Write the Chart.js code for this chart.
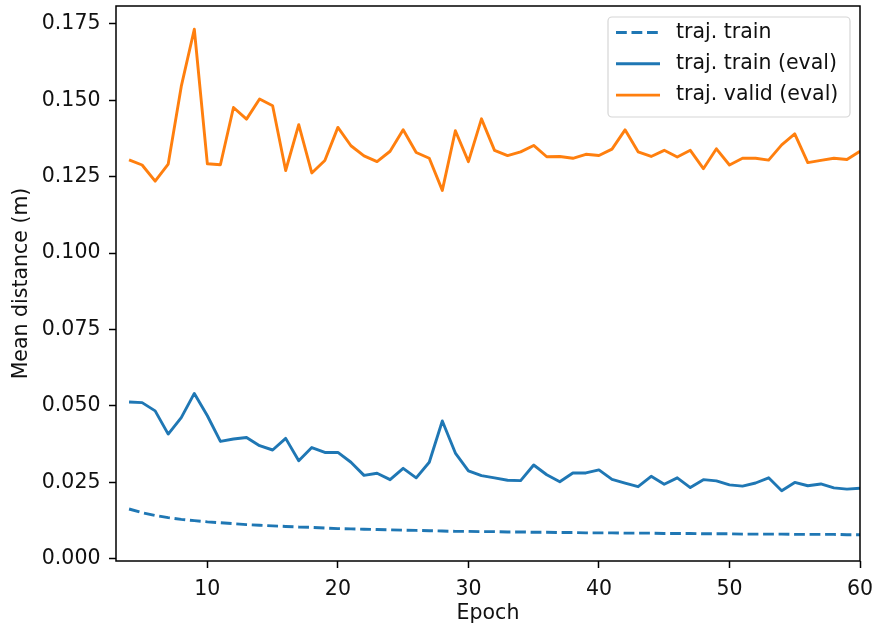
<!DOCTYPE html>
<html>
<head>
<meta charset="utf-8">
<script src="https://cdn.jsdelivr.net/npm/chart.js@4.4.1/dist/chart.umd.min.js"></script>
<style>
  html, body { margin: 0; padding: 0; background: #fff; }
  canvas { display: block; }
</style>
</head>
<body>
<canvas id="distChart" width="874" height="627"></canvas>
<script>
const epochs = [4, 5, 6, 7, 8, 9, 10, 11, 12, 13, 14, 15, 16, 17, 18, 19, 20, 21, 22, 23,
  24, 25, 26, 27, 28, 29, 30, 31, 32, 33, 34, 35, 36, 37, 38, 39, 40, 41, 42, 43,
  44, 45, 46, 47, 48, 49, 50, 51, 52, 53, 54, 55, 56, 57, 58, 59, 60];

const trajTrain = [0.0163, 0.0151, 0.0142, 0.0135, 0.0129, 0.0125, 0.0121, 0.0118, 0.0115, 0.0112,
  0.0110, 0.0108, 0.0106, 0.0104, 0.0103, 0.0101, 0.0099, 0.0098, 0.0097, 0.0096,
  0.0095, 0.0094, 0.0093, 0.0092, 0.0091, 0.0090, 0.0090, 0.0089, 0.0089, 0.0088,
  0.0088, 0.0087, 0.0087, 0.0086, 0.0086, 0.0085, 0.0085, 0.0085, 0.0084, 0.0084,
  0.0084, 0.0083, 0.0083, 0.0083, 0.0082, 0.0082, 0.0082, 0.0081, 0.0081, 0.0081,
  0.0081, 0.0080, 0.0080, 0.0080, 0.0080, 0.0079, 0.0079];

const trajTrainEval = [0.0513, 0.0511, 0.0484, 0.0408, 0.0462, 0.0541, 0.0468, 0.0384, 0.0392, 0.0397,
  0.0370, 0.0356, 0.0394, 0.0321, 0.0364, 0.0348, 0.0348, 0.0316, 0.0273, 0.0280,
  0.0259, 0.0296, 0.0265, 0.0316, 0.0451, 0.0346, 0.0288, 0.0272, 0.0265, 0.0257,
  0.0256, 0.0307, 0.0275, 0.0252, 0.0281, 0.0281, 0.0291, 0.0260, 0.0248, 0.0236,
  0.0270, 0.0244, 0.0265, 0.0233, 0.0259, 0.0255, 0.0242, 0.0238, 0.0248, 0.0265,
  0.0223, 0.0250, 0.0239, 0.0245, 0.0232, 0.0228, 0.0231];

const trajValidEval = [0.1305, 0.1288, 0.1235, 0.1291, 0.1545, 0.1732, 0.1292, 0.1289, 0.1476, 0.1438,
  0.1504, 0.1482, 0.1270, 0.1420, 0.1262, 0.1303, 0.1411, 0.1351, 0.1318, 0.1299,
  0.1333, 0.1403, 0.1329, 0.1310, 0.1205, 0.1400, 0.1299, 0.1439, 0.1336, 0.1319,
  0.1331, 0.1352, 0.1315, 0.1316, 0.1310, 0.1323, 0.1319, 0.1340, 0.1403, 0.1331,
  0.1316, 0.1336, 0.1314, 0.1336, 0.1276, 0.1341, 0.1288, 0.1310, 0.1310, 0.1304,
  0.1354, 0.1390, 0.1296, 0.1303, 0.1310, 0.1306, 0.1333];

const xTicks = [10, 20, 30, 40, 50, 60];
const yTicks = [0, 0.025, 0.05, 0.075, 0.1, 0.125, 0.15, 0.175];
const seriesLabels = ["traj. train", "traj. train (eval)", "traj. valid (eval)"];

const FONT = "'DejaVu Sans', sans-serif";
const FONT_SIZE = 20.5;
const TEXT = "#111";
const BLUE = "#1f77b4";
const ORANGE = "#ff7f0e";
const LW = 2.9;
const DASH = [10.8, 4.7];

const toPoints = values => values.map((v, i) => ({ x: epochs[i], y: v }));

// matplotlib style box around the plot + legend inside upper right
const framePlugin = {
  id: "frame",
  afterDraw(chart) {
    const { ctx, chartArea: a } = chart;
    ctx.save();
    ctx.strokeStyle = "#000";
    ctx.lineWidth = 1.5;
    ctx.strokeRect(a.left, a.top, a.right - a.left, a.bottom - a.top);

    const bw = 242, bh = 100;
    const bx = a.right - 10 - bw, by = a.top + 11;
    ctx.beginPath();
    ctx.roundRect(bx, by, bw, bh, 4);
    ctx.fillStyle = "rgba(255,255,255,0.8)";
    ctx.fill();
    ctx.strokeStyle = "#d6d6d6";
    ctx.lineWidth = 1.2;
    ctx.stroke();

    const styles = [
      { color: BLUE, dash: DASH },
      { color: BLUE, dash: [] },
      { color: ORANGE, dash: [] }
    ];
    ctx.font = FONT_SIZE + "px " + FONT;
    ctx.textBaseline = "middle";
    ctx.textAlign = "left";
    seriesLabels.forEach((label, i) => {
      const y = by + 15.5 + i * 31.3;
      ctx.beginPath();
      ctx.setLineDash(styles[i].dash);
      ctx.strokeStyle = styles[i].color;
      ctx.lineWidth = LW;
      ctx.moveTo(bx + 8, y);
      ctx.lineTo(bx + 52, y);
      ctx.stroke();
      ctx.setLineDash([]);
      ctx.fillStyle = TEXT;
      ctx.fillText(label, bx + 68, y);
    });
    ctx.restore();
  }
};

new Chart(document.getElementById("distChart"), {
  type: "line",
  data: {
    datasets: [
      {
        label: seriesLabels[2],
        data: toPoints(trajValidEval),
        borderColor: ORANGE,
        borderWidth: LW
      },
      {
        label: seriesLabels[1],
        data: toPoints(trajTrainEval),
        borderColor: BLUE,
        borderWidth: LW
      },
      {
        label: seriesLabels[0],
        data: toPoints(trajTrain),
        borderColor: BLUE,
        borderWidth: LW,
        borderDash: DASH
      }
    ]
  },
  options: {
    responsive: false,
    animation: false,
    devicePixelRatio: 1,
    layout: { padding: { left: 0, top: 6, right: 14, bottom: 0 } },
    elements: {
      point: { radius: 0 },
      line: { tension: 0, fill: false, borderJoinStyle: "round" }
    },
    plugins: {
      legend: { display: false },
      tooltip: { enabled: false }
    },
    scales: {
      x: {
        type: "linear",
        min: 3,
        max: 60,
        afterBuildTicks: scale => { scale.ticks = xTicks.map(v => ({ value: v })); },
        afterFit: scale => {
          scale.height = 66;
          scale.paddingLeft = 0;
          scale.paddingRight = 0;
        },
        grid: { drawOnChartArea: false, drawTicks: true, tickLength: 7, tickWidth: 1.5, tickColor: "#000" },
        border: { display: false },
        ticks: {
          color: TEXT,
          padding: 9,
          maxRotation: 0,
          font: { family: FONT, size: FONT_SIZE },
          callback: v => String(v)
        },
        title: {
          display: true,
          text: "Epoch",
          color: TEXT,
          padding: { top: 0, bottom: 0.7 },
          font: { family: FONT, size: FONT_SIZE }
        }
      },
      y: {
        min: -0.0007,
        max: 0.1808,
        afterBuildTicks: scale => { scale.ticks = yTicks.map(v => ({ value: v })); },
        afterFit: scale => {
          scale.width = 116;
          scale.paddingTop = 0;
          scale.paddingBottom = 0;
        },
        grid: { drawOnChartArea: false, drawTicks: true, tickLength: 7, tickWidth: 1.5, tickColor: "#000" },
        border: { display: false },
        ticks: {
          color: TEXT,
          padding: 8.5,
          font: { family: FONT, size: FONT_SIZE },
          callback: v => v.toFixed(3)
        },
        title: {
          display: true,
          text: "Mean distance (m)",
          color: TEXT,
          padding: { top: 9.7, bottom: 0 },
          font: { family: FONT, size: FONT_SIZE }
        }
      }
    }
  },
  plugins: [framePlugin]
});
</script>
</body>
</html>
